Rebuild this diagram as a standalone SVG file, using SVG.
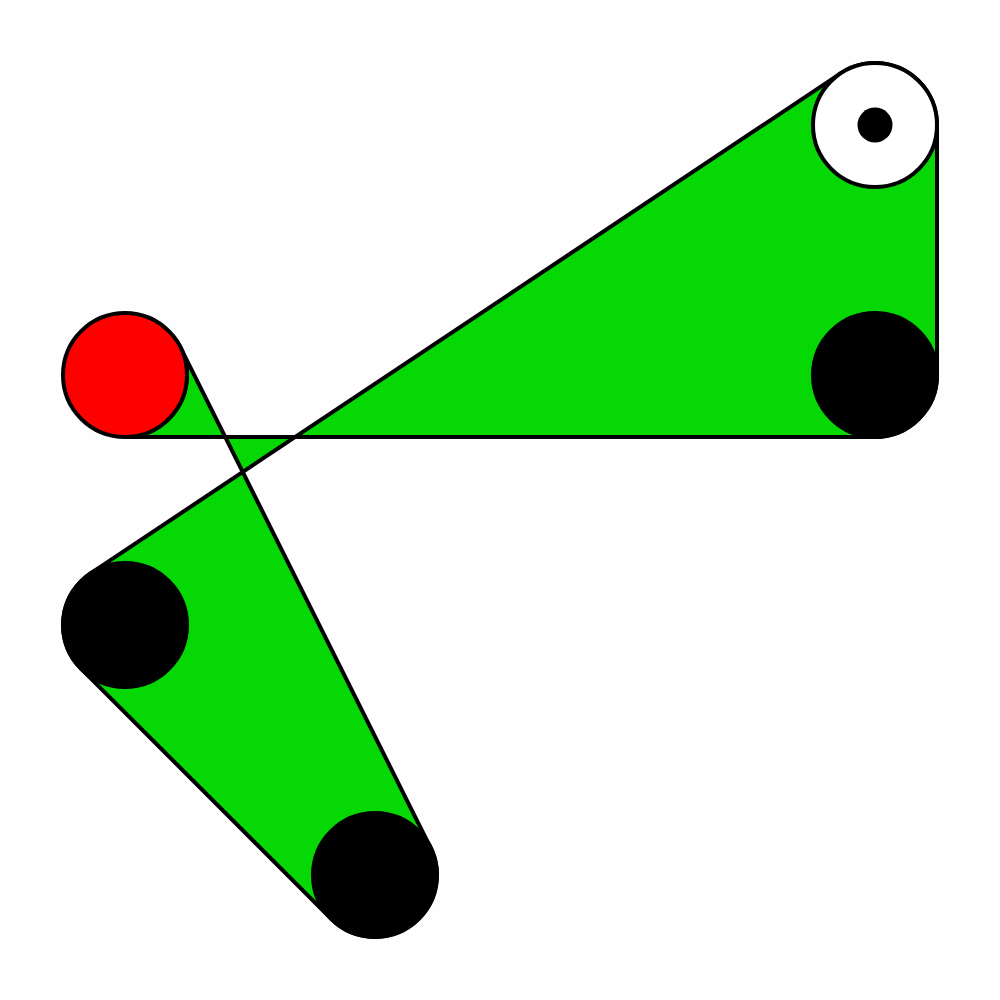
<svg xmlns="http://www.w3.org/2000/svg" width="1000" height="1000" viewBox="0 0 1000 1000">
<style>
.belt{fill:#05d805;stroke:#000;stroke-width:4;stroke-linejoin:round}
.pulley{stroke:#000;stroke-width:4}
</style>
<rect width="1000" height="1000" fill="#fefefe"/>
<g id="connectors">
<path class="belt" d="M125,437 L875,437 A62,62 0 0 0 937,375 L937,125 A62,62 0 0 0 840.6,73.4 L90.6,573.4 A62,62 0 0 0 81.2,668.8 L331.2,918.8 A62,62 0 0 0 430.4,847.3 L180.4,347.3 A62,62 0 0 1 125,437 Z"/>
</g>
<g id="pulley-red"><circle class="pulley" cx="125" cy="375" r="62" fill="#ff0000"/></g>
<g id="pulley-white"><circle class="pulley" cx="875" cy="125" r="62" fill="#ffffff"/><circle cx="875" cy="125" r="17.5" fill="#000"/></g>
<g id="pulley-right"><circle class="pulley" cx="875" cy="375" r="62" fill="#000"/></g>
<g id="pulley-left"><circle class="pulley" cx="125" cy="625" r="62" fill="#000"/></g>
<g id="pulley-bottom"><circle class="pulley" cx="375" cy="875" r="62" fill="#000"/></g>
</svg>
